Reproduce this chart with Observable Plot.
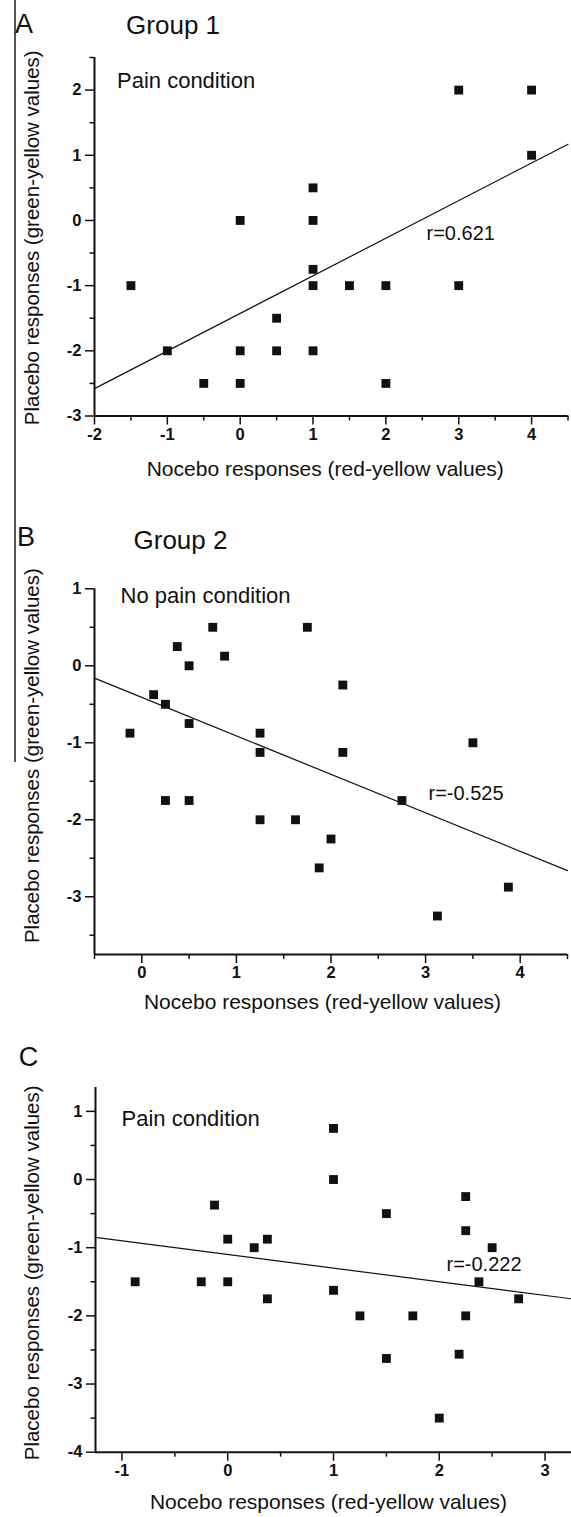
<!DOCTYPE html>
<html><head><meta charset="utf-8">
<script src="https://cdn.jsdelivr.net/npm/d3@7"></script>
<script src="https://cdn.jsdelivr.net/npm/@observablehq/plot@0.6"></script>
<style>
html,body{margin:0;padding:0;background:#fff;}
#wrap{position:relative;width:571px;height:1517px;overflow:hidden;background:#fff;}
.panel{position:absolute;left:0;}
#scan{position:absolute;left:14px;top:0;width:1.5px;height:762px;background:#555;}
</style></head><body><div id="wrap"><div id="scan"></div></div>
<script>
// ---------- Panel A: Group 1, pain condition ----------
const xA = [-1.5, -1, -0.5, 0, 0, 0, 0.5, 0.5, 1, 1, 1, 1, 1, 1.5, 2, 2, 3, 3, 4, 4];
const yA = [-1, -2, -2.5, 0, -2, -2.5, -1.5, -2, 0.5, 0, -0.75, -1, -2, -1, -1, -2.5, 2, -1, 2, 1];
const fitXA = [-2, 4.5];
const fitYA = [-2.58, 1.17];
const xTicksA = [-2, -1, 0, 1, 2, 3, 4];
const xMinorA = [-1.5, -0.5, 0.5, 1.5, 2.5, 3.5, 4.5];
const yTicksA = [-3, -2, -1, 0, 1, 2];
const yMinorA = [-2.5, -1.5, -0.5, 0.5, 1.5, 2.5];

// ---------- Panel B: Group 2, no pain condition ----------
const xB = [-0.125, 0.125, 0.25, 0.375, 0.5, 0.5, 0.75, 0.875, 1.25, 1.25, 1.75, 2.125, 2.125, 3.5, 2.75, 0.25, 0.5, 1.25, 1.625, 2, 1.875, 3.125, 3.875];
const yB = [-0.875, -0.375, -0.5, 0.25, 0, -0.75, 0.5, 0.125, -0.875, -1.125, 0.5, -0.25, -1.125, -1, -1.75, -1.75, -1.75, -2, -2, -2.25, -2.625, -3.25, -2.875];
const fitXB = [-0.5, 4.5];
const fitYB = [-0.16, -2.66];
const xTicksB = [0, 1, 2, 3, 4];
const xMinorB = [-0.5, 0.5, 1.5, 2.5, 3.5, 4.5];
const yTicksB = [-3, -2, -1, 0, 1];
const yMinorB = [-3.5, -2.5, -1.5, -0.5, 0.5];

// ---------- Panel C: pain condition ----------
const xC = [-0.875, -0.25, -0.125, 0, 0, 0.25, 0.375, 0.375, 1, 1, 1, 1.25, 1.5, 1.75, 2.25, 2.25, 2.25, 2.5, 2.375, 2.75, 1.5, 2.1875, 2];
const yC = [-1.5, -1.5, -0.375, -0.875, -1.5, -1, -0.875, -1.75, 0.75, 0, -1.625, -2, -0.5, -2, -0.25, -0.75, -2, -1, -1.5, -1.75, -2.625, -2.5625, -3.5];
const fitXC = [-1.25, 3.25];
const fitYC = [-0.85, -1.75];
const xTicksC = [-1, 0, 1, 2, 3];
const xMinorC = [-0.5, 0.5, 1.5, 2.5];
const yTicksC = [-4, -3, -2, -1, 0, 1];
const yMinorC = [-3.5, -2.5, -1.5, -0.5, 0.5];

const xTitle = "Nocebo responses (red-yellow values)";
const yTitle = "Placebo responses (green-yellow values)";

const FONT = "'Liberation Sans', Arial, Helvetica, sans-serif";
const INK = "#111";

function panel(c) {
  const pts = c.xs.map((x, i) => ({x, y: c.ys[i]}));
  const fit = c.fitX.map((x, i) => ({x, y: c.fitY[i]}));
  const label = (txt, o) => Plot.text([txt], {text: d => d, fill: INK, fontFamily: FONT, ...o});
  const marks = [
    Plot.ruleY([c.yDomain[0]], {stroke: INK, strokeWidth: 2}),
    Plot.ruleX([c.xDomain[0]], {stroke: INK, strokeWidth: 2}),
    Plot.axisX(c.xMajor, {tickSize: 9, tickFormat: () => "", strokeWidth: 1.5, stroke: INK, label: null}),
    Plot.axisX(c.xMinor, {tickSize: 5, tickFormat: () => "", strokeWidth: 1.5, stroke: INK, label: null}),
    Plot.axisY(c.yMajor, {tickSize: 9, tickFormat: () => "", strokeWidth: 1.5, stroke: INK, label: null}),
    Plot.axisY(c.yMinor, {tickSize: 4.5, tickFormat: () => "", strokeWidth: 1.5, stroke: INK, label: null}),
    Plot.text(c.xMajor, {x: d => d, text: d => String(d), frameAnchor: "bottom", lineAnchor: "top", dy: 12, fontSize: 16.5, fontWeight: "bold", fill: INK, fontFamily: FONT}),
    Plot.text(c.yMajor, {y: d => d, text: d => String(d), frameAnchor: "left", textAnchor: "end", dx: -13, fontSize: 16.5, fontWeight: "bold", fill: INK, fontFamily: FONT}),
    Plot.line(fit, {x: "x", y: "y", stroke: INK, strokeWidth: 1.2}),
    Plot.dot(pts, {x: "x", y: "y", symbol: "square", r: 5, fill: INK, stroke: "none"}),
    label(c.letter, {frameAnchor: "top-left", textAnchor: "start", lineAnchor: "top", dx: c.letterDx, dy: c.letterDy, fontSize: 27}),
    label(c.cond, {frameAnchor: "top-left", textAnchor: "start", lineAnchor: "top", dx: c.condDx, dy: c.condDy, fontSize: 22}),
    label(c.r, {frameAnchor: "top-left", textAnchor: "start", lineAnchor: "top", dx: c.rDx, dy: c.rDy, fontSize: 20}),
    label(xTitle, {frameAnchor: "bottom", textAnchor: "middle", lineAnchor: "bottom", dx: c.xtDx, dy: c.xtDy, fontSize: 21}),
    label(yTitle, {frameAnchor: "left", textAnchor: "middle", lineAnchor: "top", rotate: -90, dx: c.ytDx, dy: c.ytDy, fontSize: 20.5})
  ];
  if (c.group) marks.push(label(c.group, {frameAnchor: "top-left", textAnchor: "start", lineAnchor: "top", dx: c.groupDx, dy: c.groupDy, fontSize: 26}));
  const svg = Plot.plot({
    width: 571, height: c.height,
    marginTop: c.mt, marginBottom: c.mb, marginLeft: c.ml, marginRight: c.mr,
    style: {fontFamily: FONT, color: INK, background: "transparent", overflow: "visible"},
    x: {domain: c.xDomain},
    y: {domain: c.yDomain},
    marks
  });
  const div = document.createElement("div");
  div.className = "panel";
  div.style.top = c.top + "px";
  div.appendChild(svg);
  document.getElementById("wrap").appendChild(div);
}

panel({
  top: 0, height: 490, mt: 57, mb: 74.5, ml: 94, mr: 3.5,
  xs: xA, ys: yA, fitX: fitXA, fitY: fitYA,
  xDomain: [-2, 4.5], yDomain: [-3, 2.5],
  xMajor: xTicksA, xMinor: xMinorA, yMajor: yTicksA, yMinor: yMinorA,
  letter: "A", letterDx: -79.4, letterDy: -43.7,
  group: "Group 1", groupDx: 31.6, groupDy: -42,
  cond: "Pain condition", condDx: 22.5, condDy: 15,
  r: "r=0.621", rDx: 332, rDy: 168,
  xtDx: -6, xtDy: 59.5, ytDx: -70, ytDy: 1
});
panel({
  top: 490, height: 530, mt: 98.3, mb: 66, ml: 94, mr: 4,
  xs: xB, ys: yB, fitX: fitXB, fitY: fitYB,
  xDomain: [-0.5, 4.5], yDomain: [-3.75, 1],
  xMajor: xTicksB, xMinor: xMinorB, yMajor: yTicksB, yMinor: yMinorB,
  letter: "B", letterDx: -77.6, letterDy: -61.6,
  group: "Group 2", groupDx: 39, groupDy: -58.3,
  cond: "No pain condition", condDx: 26, condDy: -1.6,
  r: "r=-0.525", rDx: 334, rDy: 196.7,
  xtDx: -8.5, xtDy: 54, ytDx: -70, ytDy: -16
});
panel({
  top: 1020, height: 497, mt: 67, mb: 65.3, ml: 95, mr: 0,
  xs: xC, ys: yC, fitX: fitXC, fitY: fitYC,
  xDomain: [-1.25, 3.25], yDomain: [-4, 1.35],
  xMajor: xTicksC, xMinor: xMinorC, yMajor: yTicksC, yMinor: yMinorC,
  letter: "C", letterDx: -76.8, letterDy: -40.3,
  group: null,
  cond: "Pain condition", condDx: 26, condDy: 23,
  r: "r=-0.222", rDx: 351, rDy: 169.7,
  xtDx: -5, xtDy: 56.3, ytDx: -71, ytDy: 3
});
</script>
</body></html>
